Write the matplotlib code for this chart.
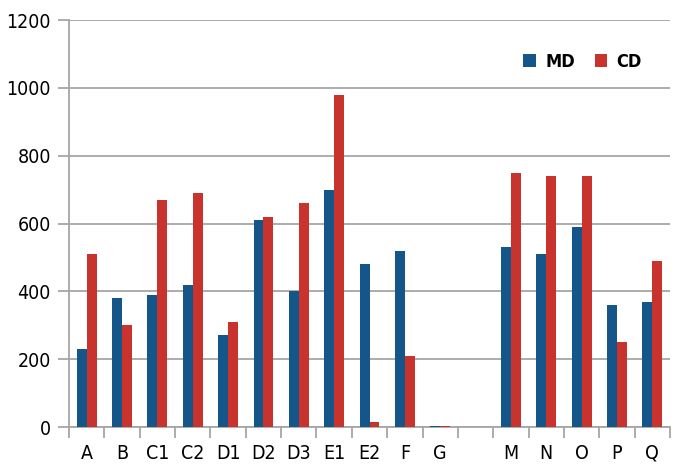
import matplotlib
matplotlib.use("Agg")
import matplotlib.pyplot as plt
import numpy as np

categories = ["A", "B", "C1", "C2", "D1", "D2", "D3", "E1", "E2", "F", "G", "",
              "M", "N", "O", "P", "Q"]
md = [230, 380, 390, 420, 270, 610, 400, 700, 480, 520, 3, 0,
      530, 510, 590, 360, 370]
cd = [510, 300, 670, 690, 310, 620, 660, 980, 15, 210, 3, 0,
      750, 740, 740, 250, 490]

blue = "#14558a"
red = "#c8332e"
grey = "#a6a6a6"

plt.rcParams["font.family"] = ["DejaVu Sans"]
plt.rcParams["font.stretch"] = "condensed"

fig = plt.figure(figsize=(6.83, 4.72), dpi=100)
ax = fig.add_axes([0.101, 0.0953, 0.880, 0.8623])

x = np.arange(len(categories))
w = 0.28
ax.bar(x - w / 2, md, w, color=blue, label="MD", zorder=3)
ax.bar(x + w / 2, cd, w, color=red, label="CD", zorder=3)

ax.set_xlim(-0.5, len(categories) - 0.5)
ax.set_ylim(0, 1200)
ax.set_yticks(range(0, 1201, 200))
ax.yaxis.grid(True, color=grey, linewidth=1.3, zorder=0)

ax.set_xticks(x)
ax.set_xticklabels(categories, fontsize=14)
ax.set_xticks(np.arange(len(categories) + 1) - 0.5, minor=True)
ax.tick_params(axis="x", which="major", length=0, pad=12)
ax.tick_params(axis="x", which="minor", length=8, color=grey, width=1.3)
ax.tick_params(axis="y", length=8, color=grey, width=1.3, labelsize=14, pad=5)

for side in ["top", "right"]:
    ax.spines[side].set_visible(False)
for side in ["left", "bottom"]:
    ax.spines[side].set_color(grey)
    ax.spines[side].set_linewidth(1.3)

leg = ax.legend(loc="upper right", bbox_to_anchor=(0.98, 0.96), ncol=2,
                frameon=False, handlelength=0.7, handleheight=0.7,
                columnspacing=1.1, handletextpad=0.5,
                prop={"weight": "bold", "size": 13})

fig.savefig("out.png", dpi=100)
